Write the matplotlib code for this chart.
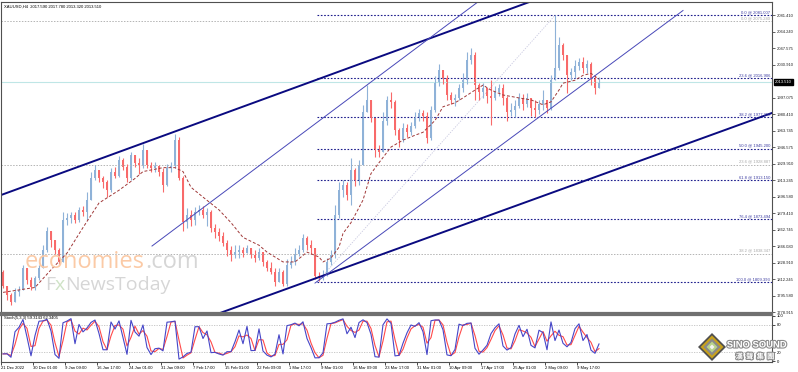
import numpy as np
import pandas as pd
import matplotlib
matplotlib.use("Agg")
import matplotlib.pyplot as plt
import matplotlib.patheffects as pe
from matplotlib.patches import Polygon

plt.rcParams['font.family'] = ['Liberation Sans', 'DejaVu Sans']

# XAUUSD H4, one entry per ~4 bars of the terminal chart
first_open = 1820
closes = [
    1806, 1796, 1789, 1799, 1801, 1824, 1812, 1804, 1814, 1824,
    1842, 1862, 1852, 1842, 1830, 1873, 1875, 1878, 1873, 1883,
    1881, 1893, 1915, 1924, 1915, 1911, 1903, 1922, 1918, 1934,
    1927, 1915, 1939, 1931, 1929, 1944, 1929, 1926, 1928, 1922,
    1908, 1926, 1928, 1954, 1915, 1871, 1878, 1873, 1881, 1883,
    1878, 1881, 1865, 1860, 1856, 1849, 1842, 1837, 1840, 1842,
    1839, 1844, 1837, 1834, 1840, 1830, 1824, 1820, 1810, 1820,
    1808, 1827, 1830, 1838, 1842, 1854, 1847, 1844, 1816, 1814,
    1817, 1830, 1837, 1878, 1903, 1908, 1898, 1924, 1913, 1929,
    1983, 1995, 1977, 1944, 1942, 1974, 1995, 1993, 1964, 1954,
    1966, 1962, 1968, 1977, 1982, 1979, 1956, 1985, 2013, 2025,
    2017, 2000, 1995, 1997, 2007, 2015, 2036, 2041, 2010, 2003,
    2007, 1999, 1997, 2003, 2007, 1997, 1983, 1985, 1989, 1997,
    1991, 1997, 1987, 1985, 1991, 1995, 1987, 2015, 2027, 2051,
    2041, 2020, 2023, 2030, 2034, 2027, 2032, 2017, 2007, 2013.51,
]
highs = [
    1822, 1806, 1798, 1803, 1806, 1827, 1822, 1815, 1816, 1827,
    1847, 1866, 1862, 1852, 1844, 1881, 1880, 1881, 1881, 1886,
    1887, 1901, 1922, 1929, 1922, 1918, 1913, 1926, 1927, 1938,
    1936, 1930, 1942, 1937, 1936, 1950, 1944, 1932, 1932, 1929,
    1926, 1930, 1932, 1960, 1957, 1918, 1885, 1883, 1886, 1888,
    1887, 1885, 1883, 1869, 1865, 1860, 1852, 1846, 1847, 1847,
    1845, 1847, 1844, 1842, 1844, 1840, 1832, 1830, 1824, 1824,
    1822, 1833, 1836, 1844, 1847, 1858, 1856, 1852, 1842, 1820,
    1822, 1834, 1842, 1888, 1911, 1913, 1911, 1936, 1926, 1934,
    1990, 2010, 1990, 1977, 1949, 1983, 1999, 2003, 1995, 1966,
    1971, 1970, 1972, 1983, 1986, 1985, 1983, 1989, 2019, 2032,
    2025, 2020, 2003, 2001, 2011, 2022, 2044, 2048, 2044, 2012,
    2012, 2007, 2015, 2009, 2011, 2011, 1999, 1992, 1995, 2002,
    2001, 2002, 1997, 1995, 1995, 2005, 1995, 2020, 2081, 2059,
    2053, 2041, 2027, 2036, 2038, 2039, 2036, 2034, 2019, 2018,
]
lows = [
    1803, 1791, 1786, 1791, 1795, 1801, 1808, 1801, 1801, 1812,
    1824, 1840, 1845, 1838, 1828, 1830, 1868, 1870, 1870, 1871,
    1877, 1873, 1893, 1913, 1911, 1905, 1896, 1901, 1915, 1916,
    1924, 1911, 1913, 1927, 1920, 1926, 1926, 1922, 1922, 1918,
    1901, 1907, 1922, 1926, 1913, 1862, 1865, 1867, 1868, 1878,
    1875, 1867, 1860, 1854, 1851, 1846, 1836, 1831, 1834, 1834,
    1835, 1840, 1834, 1830, 1832, 1826, 1821, 1818, 1806, 1812,
    1805, 1806, 1824, 1827, 1836, 1840, 1842, 1838, 1813, 1811,
    1812, 1816, 1827, 1834, 1875, 1896, 1893, 1888, 1907, 1908,
    1934, 1983, 1972, 1937, 1937, 1942, 1969, 1987, 1959, 1947,
    1952, 1957, 1959, 1966, 1974, 1974, 1951, 1954, 1983, 2009,
    2011, 1995, 1991, 1989, 1995, 2003, 2011, 2032, 1995, 1995,
    1997, 1992, 1969, 1995, 1999, 1990, 1974, 1979, 1978, 1987,
    1985, 1988, 1979, 1978, 1981, 1985, 1982, 1985, 2015, 2025,
    2036, 2002, 2015, 2017, 2025, 2022, 2022, 2010, 2001, 2007,
]

# moving average (bar, price)
ma_bar = [0, 8, 12, 16, 20, 24, 29, 33, 35, 40, 43, 45, 47, 50, 54, 57, 60, 64,
          66, 70, 73, 76, 79, 80, 82, 84, 85, 87, 90, 92, 94, 97, 100, 103, 105,
          108, 110, 113, 115, 118, 120, 122, 125, 129, 132, 135, 137, 139, 140,
          143, 145, 147, 149]
ma_val = [1799, 1804, 1822, 1839, 1865, 1890, 1903, 1915, 1922, 1926, 1926, 1922,
          1906, 1896, 1883, 1870, 1855, 1847, 1840, 1830, 1830, 1840, 1835, 1830,
          1834, 1845, 1859, 1870, 1893, 1920, 1931, 1947, 1954, 1959, 1962, 1974,
          1988, 1992, 1997, 2005, 2010, 2005, 2000, 1997, 1995, 1990, 1993, 2005,
          2012, 2015, 2020, 2022, 2016]

date_labels = ["21 Dec 2022", "30 Dec 01:00", "9 Jan 09:00", "16 Jan 17:00",
               "24 Jan 01:00", "31 Jan 09:00", "7 Feb 17:00", "15 Feb 01:00",
               "22 Feb 09:00", "1 Mar 17:00", "9 Mar 01:00", "16 Mar 09:00",
               "23 Mar 17:00", "31 Mar 01:00", "10 Apr 09:00", "17 Apr 17:00",
               "25 Apr 01:00", "2 May 09:00", "9 May 17:00"]
price_ticks = [2081.410, 2064.240, 2047.575, 2030.910, 1997.075, 1980.410,
               1963.745, 1946.575, 1929.910, 1913.245, 1896.580, 1879.410,
               1862.745, 1846.080, 1828.910, 1812.245, 1795.580, 1778.915]

# analyst drawings: (bar, price) anchors
channel_top = [(-0.5, 1898.1), (119.25, 2076.3)]
channel_bottom = [(54.25, 1778.0), (154.25, 1925.6)]
thin_upper = [(37.25, 1846.2), (86.0, 1994.9)]
thin_lower = [(78.0, 1808.5), (170.0, 2086.0)]

fib_levels = [0.0, 23.6, 38.2, 50.0, 61.8, 76.4, 100.0]
fib_high, fib_low, fib_start = 2081.007, 1809.393, 78.5
fib_high_bar, fib_low_bar = 138.0, 78.5
fib2_levels = [0.0, 23.6, 38.2]
fib2_high, fib2_low = 2075.240, 1455.10

last_price = 2013.51
header = "XAUUSD,H4  2017.590 2017.780 2013.320 2013.510"
stoch_label = "Stoch(5,3,3) 59.3143 62.3405"

W, H = 798, 372


def px(x, y):
    return x / W, 1 - y / H


def stochastic(hi, lo, cl, k=3, slow=1, d=2):
    hh = hi.rolling(k, min_periods=1).max()
    ll = lo.rolling(k, min_periods=1).min()
    num = (cl - ll).rolling(slow, min_periods=1).sum()
    den = (hh - ll).rolling(slow, min_periods=1).sum()
    main = 100 * num / den
    return main, main.rolling(d, min_periods=1).mean()


def text_row(x, y, parts, **kw):
    # lay text pieces one after another, left to right
    r = fig.canvas.get_renderer()
    for s, col in parts:
        t = fig.text(*px(x, y), s, color=col, **kw)
        x += t.get_window_extent(r).width


df = pd.DataFrame({"close": closes, "high": highs, "low": lows})
df["open"] = [first_open] + closes[:-1]
df["high"] = df[["high", "open", "close"]].max(axis=1)
df["low"] = df[["low", "open", "close"]].min(axis=1)
idx = np.arange(len(df))

fig = plt.figure(figsize=(W / 100, H / 100), dpi=100)
ax = fig.add_axes([1 / W, 1 - 313 / H, 771 / W, 311 / H])
ax2 = fig.add_axes([1 / W, 1 - 362 / H, 771 / W, 47 / H])

xmax = 192.25
ax.set_xlim(-0.5, xmax)
ax.set_ylim(1778.0, 2094.66)

# watermark
text_row(25, 268, [("economies", "#fbcaa6"), (".com", "#d6d6d6")],
         fontsize=17, family="Open Sans", zorder=0)
text_row(45, 290, [("F", "#d6d6d6"), ("x", "#cfe3c6"), ("NewsToday", "#d6d6d6")],
         fontsize=14, family="Open Sans", zorder=0)

# fibonacci (grey, full width)
for lv in fib2_levels:
    p = fib2_high - (fib2_high - fib2_low) * lv / 100
    ax.hlines(p, -0.5, xmax, colors="#b4b4b4", linestyles=(0, (1.5, 1.5)), lw=0.7)
    ax.text(xmax - 0.5, p + 1, f"{lv:.1f} @ {p:.3f}", fontsize=3, color="#a8a8a8",
            ha="right", va="bottom")

# fibonacci (blue)
for lv in fib_levels:
    p = fib_high - (fib_high - fib_low) * lv / 100
    ax.hlines(p, fib_start, xmax, colors="#1c1c8c", linestyles=(0, (1.5, 1.5)), lw=0.8)
    ax.text(xmax - 0.5, p + 1, f"{lv:.1f} @ {p:.3f}", fontsize=3, color="#3a3aa0",
            ha="right", va="bottom")
ax.plot([fib_low_bar, fib_high_bar], [fib_low, fib_high], color="#c8c8e0",
        ls=(0, (1.5, 1.5)), lw=0.6)

ax.axhline(last_price, color="#bfe6e6", lw=0.8)

# candles
up = df["close"] >= df["open"]
for mask, col in [(up, "#8fb2d8"), (~up, "#f86a6a")]:
    ax.vlines(idx[mask], df["low"][mask], df["high"][mask], colors=col, lw=0.8)
    body_lo = np.minimum(df["open"], df["close"])[mask]
    body_h = np.maximum((df["close"] - df["open"]).abs()[mask], 0.8)
    ax.bar(idx[mask], body_h, bottom=body_lo, width=0.55, color=col, lw=0)

ax.plot(ma_bar, ma_val, color="#a03838", lw=0.7, ls=(0, (3, 2)))

# channel lines
ax.axline(*channel_top, color="#0a0a80", lw=1.4)
ax.axline(*channel_bottom, color="#0a0a80", lw=1.4)
(x0, y0), (x1, y1) = thin_upper
slope = (y1 - y0) / (x1 - x0)
ax.plot([x0, x0 + 200], [y0, y0 + 200 * slope], color="#4848b8", lw=0.7)
ax.plot(*zip(*thin_lower), color="#4848b8", lw=0.7)

ax.set_ylim(1778.0, 2094.66)
ax.set_xlim(-0.5, xmax)
ax.set_xticks([])
ax.yaxis.tick_right()
ax.set_yticks(price_ticks)
ax.set_yticklabels([f"{v:.3f}" for v in price_ticks])
ax.tick_params(axis="y", length=2, width=0.5, pad=1.5, labelsize=3, colors="#222222")
for s in ax.spines.values():
    s.set_color("#505050")
    s.set_linewidth(0.8)
ax.spines["bottom"].set_linewidth(1.6)
ax.spines["bottom"].set_color("#707070")

ax.annotate(f"{last_price:.3f}", xy=(1.0, last_price), xycoords=("axes fraction", "data"),
            xytext=(2, 0), textcoords="offset points", fontsize=3, color="white",
            va="center", ha="left",
            bbox=dict(boxstyle="square,pad=0.25", fc="black", ec="black"))
ax.text(0.004, 0.992, header, transform=ax.transAxes, fontsize=3, va="top", ha="left")

# stochastic
k_line, d_line = stochastic(df["high"], df["low"], df["close"])
ax2.set_xlim(-0.5, xmax)
ax2.set_ylim(-2.2, 102.2)
for lv in (80, 20):
    ax2.axhline(lv, color="#c0c0c0", lw=0.6, ls=(0, (1.5, 1.5)))
ax2.plot(idx, d_line, color="#ff4a4a", lw=0.8)
ax2.plot(idx, k_line, color="#4646c8", lw=0.8)
ax2.text(0.004, 0.97, stoch_label, transform=ax2.transAxes, fontsize=3, va="top", ha="left")
ax2.yaxis.tick_right()
ax2.set_yticks([100, 80, 20, 0])
ax2.set_yticklabels(["100", "80", "20", "0"])
ax2.tick_params(axis="y", length=2, width=0.5, pad=1.5, labelsize=3)
ax2.set_xticks(np.arange(len(date_labels)) * 8 - 0.5)
ax2.set_xticklabels(date_labels, ha="left")
ax2.tick_params(axis="x", length=2, width=0.5, pad=1, labelsize=3)
for s in ax2.spines.values():
    s.set_color("#505050")
    s.set_linewidth(0.8)
ax2.spines["top"].set_linewidth(1.6)
ax2.spines["top"].set_color("#707070")

# Sino Sound logo
cx, cy = 712, 347
for r, col in [(14, "#505050"), (11.5, "#c9a21c"), (8.5, "#8a8a8a"), (5.5, "#b8d48a"), (2.5, "#f4f4f4")]:
    pts = [px(cx, cy - r), px(cx + r, cy), px(cx, cy + r), px(cx - r, cy)]
    fig.add_artist(Polygon(pts, closed=True, transform=fig.transFigure, fc=col, ec="none"))
stroke = [pe.withStroke(linewidth=1.6, foreground="#8c8c8c")]
fig.text(*px(757, 345), "SINO SOUND", fontsize=6.8, weight="bold", color="white",
         ha="center", va="center", path_effects=stroke)
fig.text(*px(755, 356), "漢  聲  集  團", fontsize=5.2, family="Noto Sans CJK TC",
         weight="bold", color="white", ha="center", va="center", path_effects=stroke)

fig.savefig("out.png", dpi=100)
